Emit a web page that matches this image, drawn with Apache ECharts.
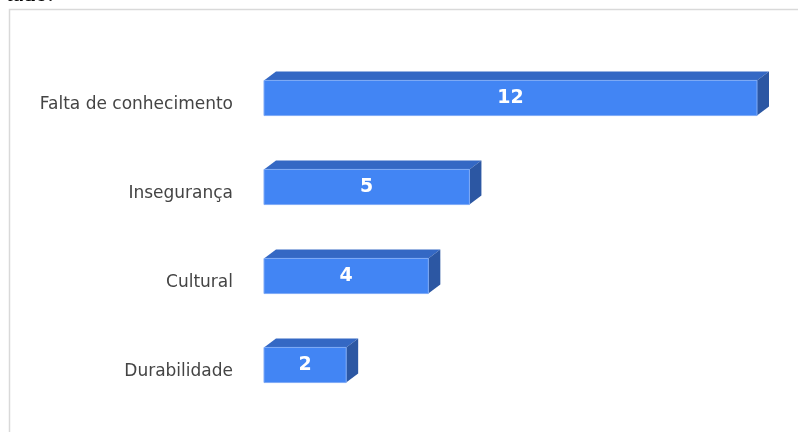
<!DOCTYPE html>
<html>
<head>
<meta charset="utf-8">
<style>
  html, body { margin: 0; padding: 0; background: #ffffff; }
  #chart { width: 798px; height: 432px; }
</style>
<script src="https://cdn.jsdelivr.net/npm/echarts@6/dist/echarts.min.js"></script>
</head>
<body>
<div id="chart"></div>
<script>
// Motivos citados e número de respostas
const categories = ['Falta de conhecimento', 'Insegurança', 'Cultural', 'Durabilidade'];
const values = [12, 5, 4, 2];

// Depth offset of the extruded bars (pixels)
const DEPTH_X = 12;
const DEPTH_Y = 9;
const FRONT = '#4285f4';
const TOP = '#3468c4';
const SIDE = '#2c57a3';

function renderBar(params, api) {
  const cat = api.value(1);
  const end = api.coord([api.value(0), cat]);
  const start = api.coord([0, cat]);
  const h = api.size([0, 1])[1] * 0.395;
  const x0 = start[0], x1 = end[0];
  const yt = end[1] - h / 2, yb = end[1] + h / 2;
  return {
    type: 'group',
    children: [
      {
        type: 'polygon',
        shape: { points: [[x0, yt], [x0 + DEPTH_X, yt - DEPTH_Y], [x1 + DEPTH_X, yt - DEPTH_Y], [x1, yt]] },
        style: { fill: TOP }
      },
      {
        type: 'polygon',
        shape: { points: [[x1, yt], [x1 + DEPTH_X, yt - DEPTH_Y], [x1 + DEPTH_X, yb - DEPTH_Y], [x1, yb]] },
        style: { fill: SIDE }
      },
      {
        type: 'rect',
        shape: { x: x0, y: yt, width: x1 - x0, height: h },
        style: { fill: FRONT, stroke: '#7eaaf6', lineWidth: 1 }
      },
      {
        type: 'text',
        x: (x0 + x1) / 2,
        y: end[1],
        style: {
          text: String(api.value(0)),
          fill: '#ffffff',
          font: 'bold 19px "DejaVu Sans", sans-serif',
          align: 'center',
          verticalAlign: 'middle'
        }
      }
    ]
  };
}

const chart = echarts.init(document.getElementById('chart'), null, { renderer: 'canvas' });
chart.setOption({
  animation: false,
  backgroundColor: '#ffffff',
  graphic: [
    {
      type: 'text',
      left: 6,
      top: -17.5,
      style: { text: 'tado:', fill: '#000000', font: '24px "Liberation Serif", serif' }
    },
    {
      type: 'rect',
      shape: { x: 9.5, y: 9.5, width: 800, height: 440 },
      style: { fill: 'none', stroke: '#d9d9d9', lineWidth: 1.5 },
      z: -1
    }
  ],
  grid: { left: 264, right: 41, top: 53.5, bottom: 22.5 },
  xAxis: {
    type: 'value',
    min: 0,
    max: 12,
    show: false
  },
  yAxis: {
    type: 'category',
    data: categories,
    inverse: true,
    axisLine: { show: false },
    axisTick: { show: false },
    axisLabel: {
      margin: 31,
      color: '#444444',
      fontFamily: '"DejaVu Sans", sans-serif',
      fontSize: 17,
      verticalAlign: 'top',
      lineHeight: 14
    }
  },
  series: [
    {
      type: 'custom',
      renderItem: renderBar,
      encode: { x: 0, y: 1 },
      data: values.map((v, i) => [v, i])
    }
  ]
});
</script>
</body>
</html>
